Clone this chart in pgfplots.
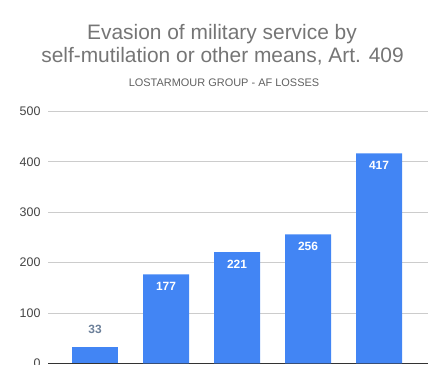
\documentclass[border=0pt]{standalone}
\usepackage{pgfplots}
\pgfplotsset{compat=1.18}
\usepackage{fontspec}
\setmainfont{Liberation Sans}
\definecolor{barblue}{HTML}{4285F4}
\definecolor{titlegray}{HTML}{757575}
\definecolor{subgray}{HTML}{616161}
\definecolor{tickgray}{HTML}{444444}
\definecolor{gridgray}{HTML}{CCCCCC}
\definecolor{outlab}{HTML}{6B7F99}
\begin{document}
\begin{tikzpicture}
\begin{axis}[
  at={(48bp,1.5bp)}, anchor=south west,
  scale only axis,
  width=380bp, height=252bp,
  xmin=-0.662, xmax=4.69,
  ymin=0, ymax=500,
  ytick={0,100,200,300,400,500},
  xtick=\empty,
  ymajorgrids,
  grid style={draw=gridgray, line width=0.8bp},
  axis line style={draw=none},
  major tick length=0pt,
  yticklabel style={font=\fontsize{12.5}{14}\selectfont, text=tickgray, xshift=-4bp},
  /pgf/number format/assume math mode=true,
  extra y ticks={0},
  extra y tick labels={},
  extra y tick style={grid style={draw=black!80, line width=1bp}},
  ybar, bar width=46bp,
  clip=false,
]
\addplot[fill=barblue, draw=none, bar shift=0pt,
  nodes near coords,
  every node near coord/.append style={font=\bfseries\fontsize{12}{14}\selectfont, text=outlab, anchor=south, inner sep=0pt, yshift=13.5bp},
] coordinates {(0,33)};
\addplot[fill=barblue, draw=none, bar shift=0pt,
  nodes near coords,
  every node near coord/.append style={font=\bfseries\fontsize{12}{14}\selectfont, text=white, anchor=north, inner sep=0pt, yshift=-7.5bp},
] coordinates {(1,177) (2,221) (3,256) (4,417)};
\end{axis}
\node[anchor=base, text=titlegray, font=\fontsize{21}{24}\selectfont] at (222bp,325bp) {Evasion of military service by};
\node[anchor=base, text=titlegray, font=\fontsize{21}{24}\selectfont] at (222.5bp,302bp) {self-mutilation or other means, Art. 409};
\node[anchor=base, text=subgray, font=\fontsize{11}{13}\selectfont] at (224bp,278bp) {LOSTARMOUR GROUP - AF LOSSES};
\pgfresetboundingbox
\useasboundingbox (0,0) rectangle (447bp,365bp);
\end{tikzpicture}
\end{document}
